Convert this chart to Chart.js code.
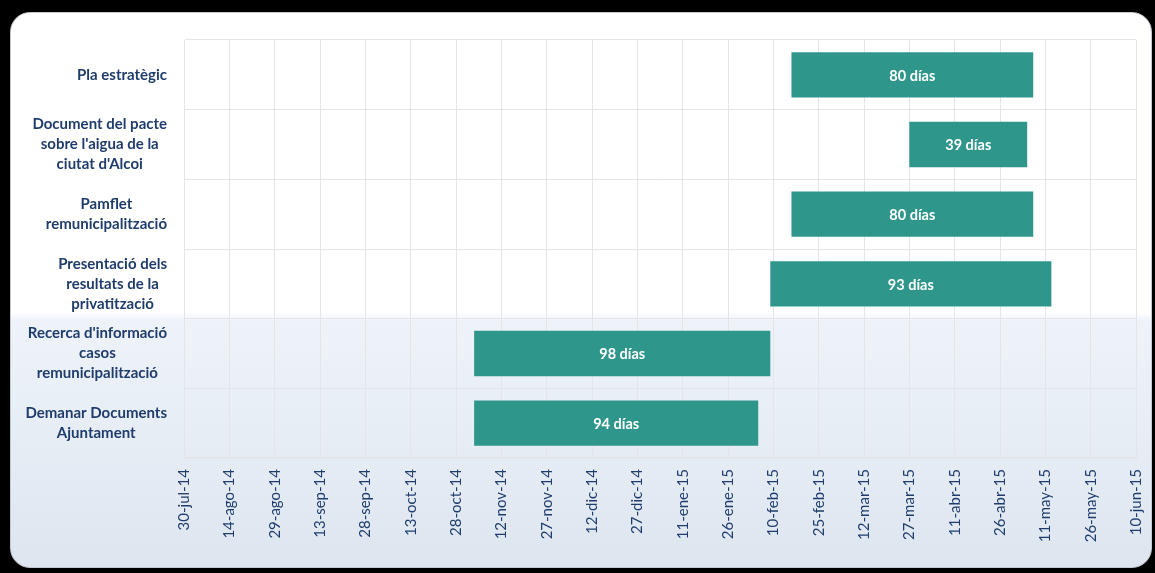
<!DOCTYPE html>
<html>
<head>
<meta charset="utf-8">
<script src="https://cdn.jsdelivr.net/npm/chart.js@4/dist/chart.umd.min.js"></script>
<style>
  html, body { margin: 0; padding: 0; background: #000; width: 1155px; height: 573px; overflow: hidden; }
  #panel {
    position: absolute; left: 10px; top: 12px; width: 1140px; height: 554px;
    border-radius: 20px; border: 1px solid #c4c8cf;
    background: linear-gradient(to bottom, #ffffff 0%, #ffffff 54%, #eef3f9 55.5%, #e5ecf4 80%, #dde5ef 100%);
  }
  #wrap { position: absolute; left: 0; top: 0; width: 1155px; height: 573px; }
</style>
</head>
<body>
<div id="panel"></div>
<div id="wrap"><canvas id="c" width="1155" height="573"></canvas></div>
<script>
// ---- data ----
const taskLabels = [
  ["Pla estratègic"],
  ["Document del pacte", "sobre l'aigua de la", "ciutat d'Alcoi"],
  ["Pamflet", "remunicipalització"],
  ["Presentació dels", "resultats de la", "privatització"],
  ["Recerca d'informació", "casos", "remunicipalització"],
  ["Demanar Documents", "Ajuntament"]
];
const startDates = ["2015-02-16", "2015-03-27", "2015-02-16", "2015-02-09", "2014-11-03", "2014-11-03"];
const durationDays = [80, 39, 80, 93, 98, 94];
const axisStartDate = "2014-07-30";
const axisEndDate = "2015-06-10";
const tickStepDays = 15;
const monthNames = ["ene", "feb", "mar", "abr", "may", "jun", "jul", "ago", "sep", "oct", "nov", "dic"];

// ---- helpers ----
const DAY = 86400000;
function dayNum(s) { const p = s.split("-").map(Number); return Math.round(Date.UTC(p[0], p[1] - 1, p[2]) / DAY); }
function fmtDay(n) {
  const d = new Date(Math.round(n) * DAY);
  return d.getUTCDate() + "-" + monthNames[d.getUTCMonth()] + "-" + String(d.getUTCFullYear()).slice(2);
}
const barData = startDates.map((s, i) => [dayNum(s), dayNum(s) + durationDays[i]]);

const textColor = "#1f3c6c";
const gridColor = "#e3e5e8";
const barColor = "#2e968b";

const yLabelPlugin = {
  id: "yLabels",
  afterDraw(chart) {
    const ctx = chart.ctx;
    const y = chart.scales.y;
    const right = chart.chartArea.left - 17;
    ctx.save();
    ctx.font = "bold 15px Lato";
    ctx.fillStyle = textColor;
    ctx.textAlign = "center";
    ctx.textBaseline = "middle";
    const lh = 20;
    taskLabels.forEach((lines, i) => {
      const cy = y.getPixelForValue(i);
      const w = Math.max(...lines.map(l => ctx.measureText(l).width));
      const cx = right - w / 2;
      const y0 = cy - (lines.length - 1) * lh / 2;
      lines.forEach((l, k) => ctx.fillText(l, cx, y0 + k * lh));
    });
    ctx.restore();
  }
};

const barTextPlugin = {
  id: "barText",
  afterDatasetsDraw(chart) {
    const ctx = chart.ctx;
    const meta = chart.getDatasetMeta(0);
    ctx.save();
    ctx.font = "bold 14.5px Lato";
    ctx.fillStyle = "#ffffff";
    ctx.textAlign = "center";
    ctx.textBaseline = "middle";
    meta.data.forEach((el, i) => {
      const p = el.getProps(["x", "base", "y"], true);
      ctx.fillText(durationDays[i] + " días", (p.x + p.base) / 2, p.y + 1);
    });
    ctx.restore();
  }
};

new Chart(document.getElementById("c"), {
  type: "bar",
  data: {
    labels: taskLabels.map(l => l.join(" ")),
    datasets: [{
      data: barData,
      backgroundColor: barColor,
      borderWidth: 0,
      barPercentage: 0.65,
      categoryPercentage: 1.0
    }]
  },
  options: {
    indexAxis: "y",
    responsive: false,
    animation: false,
    layout: { padding: { top: 40, right: 19, bottom: 0, left: 0 } },
    plugins: { legend: { display: false }, tooltip: { enabled: false } },
    scales: {
      x: {
        type: "linear",
        min: dayNum(axisStartDate),
        max: dayNum(axisEndDate),
        grid: { color: gridColor, drawTicks: false },
        border: { color: gridColor },
        afterFit(s) { s.height = 115; s.paddingRight = 0; s.paddingLeft = 0; },
        ticks: {
          stepSize: tickStepDays,
          maxRotation: 90, minRotation: 90,
          padding: 11,
          color: textColor,
          font: { family: "Lato", size: 15 },
          callback: v => fmtDay(v)
        }
      },
      y: {
        type: "category",
        grid: { color: gridColor, drawTicks: false, offset: true },
        border: { color: gridColor },
        afterFit(s) { s.width = 184; s.paddingTop = 0; s.paddingBottom = 0; },
        ticks: { color: "rgba(0,0,0,0)", font: { size: 1 } }
      }
    }
  },
  plugins: [yLabelPlugin, barTextPlugin]
});
</script>
</body>
</html>
